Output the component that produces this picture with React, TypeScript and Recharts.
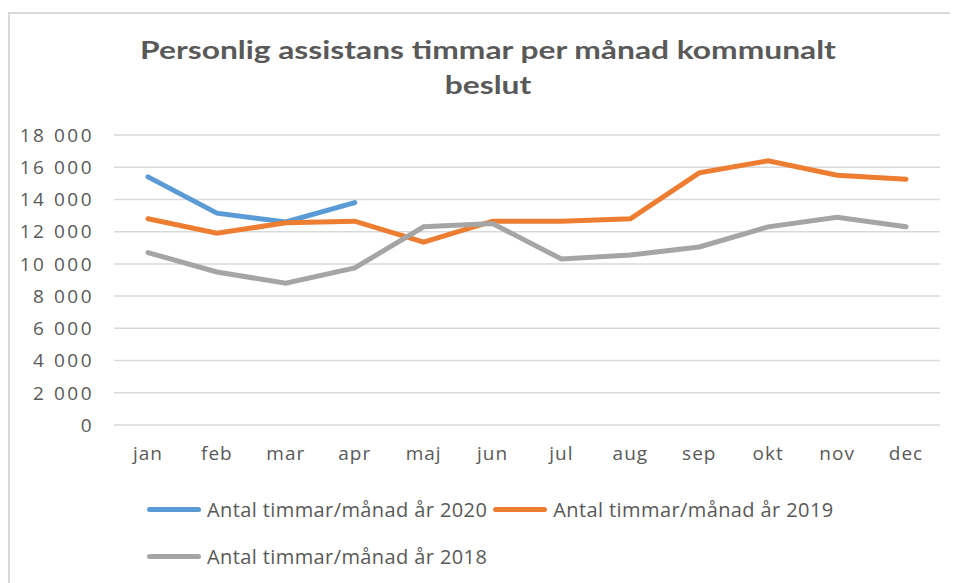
import React from "react"
import { LineChart, Line, XAxis, YAxis, CartesianGrid, Legend } from "recharts"

const months = ["jan", "feb", "mar", "apr", "maj", "jun", "jul", "aug", "sep", "okt", "nov", "dec"]
const hours2020 = [15400, 13150, 12600, 13800, null, null, null, null, null, null, null, null]
const hours2019 = [12800, 11900, 12550, 12650, 11350, 12650, 12650, 12800, 15650, 16400, 15500, 15250]
const hours2018 = [10700, 9500, 8800, 9750, 12300, 12500, 10300, 10550, 11050, 12300, 12900, 12300]
const yTicks = [0, 2000, 4000, 6000, 8000, 10000, 12000, 14000, 16000, 18000]

const seriesNames = ["Antal timmar/månad år 2020", "Antal timmar/månad år 2019", "Antal timmar/månad år 2018"]
const seriesColors = ["#5b9bd5", "#ed7d31", "#a5a5a5"]

const chartData = months.map((m, i) => ({
  month: m,
  y2020: hours2020[i],
  y2019: hours2019[i],
  y2018: hours2018[i],
}))

const textColor = "#595959"
const font = "'Open Sans', sans-serif"

// thousands with a space, swedish style
const fmt = (v: number) => (v >= 1000 ? `${Math.floor(v / 1000)} ${String(v % 1000).padStart(3, "0")}` : String(v))

const LegendBox = ({ payload }: any) => {
  const item = (entry: any) => (
    <div key={entry.value} style={{ display: "flex", alignItems: "center", marginRight: 6 }}>
      <div style={{ width: 54, height: 5, borderRadius: 3, background: entry.color, marginRight: 6 }} />
      <span style={{ fontSize: 20, letterSpacing: 0.4, color: textColor, fontFamily: font }}>{entry.value}</span>
    </div>
  )
  // keep the 2020, 2019, 2018 order
  const list = [...(payload || [])].sort((a, b) => seriesNames.indexOf(a.value) - seriesNames.indexOf(b.value))
  return (
    <div style={{ paddingLeft: 139 }}>
      <div style={{ display: "flex", height: 47, alignItems: "center" }}>{list.slice(0, 2).map(item)}</div>
      <div style={{ display: "flex", height: 47, alignItems: "center" }}>{list.slice(2).map(item)}</div>
    </div>
  )
}

export default function App() {
  return (
    <div style={{ position: "relative", width: 950, height: 575, background: "#fff", overflow: "hidden" }}>
      <style>{"html, body { overflow: hidden; }"}</style>
      {/* chart frame: only the top and left edges show */}
      <div style={{ position: "absolute", left: 0, top: 4, width: 950, height: 2, background: "#d9d9d9" }} />
      <div style={{ position: "absolute", left: 0, top: 4, width: 2, height: 571, background: "#d9d9d9" }} />
      <div
        style={{
          position: "absolute",
          left: 0,
          width: 960,
          top: 24,
          textAlign: "center",
          fontFamily: "Lato, sans-serif",
          fontWeight: 700,
          fontSize: 25,
          lineHeight: "35px",
          color: textColor,
          transform: "scaleX(1.27)",
          transformOrigin: "480px 0",
        }}
      >
        Personlig assistans timmar per månad kommunalt
        <br />
        beslut
      </div>
      <LineChart
        width={950}
        height={575}
        data={chartData}
        margin={{ top: 127, right: 18, left: 26, bottom: 34 }}
        style={{ position: "absolute", left: 0, top: 0 }}
      >
        <CartesianGrid vertical={false} stroke="#d9d9d9" strokeWidth={1.5} />
        <XAxis
          dataKey="month"
          axisLine={false}
          tickLine={false}
          tickSize={0}
          tickMargin={22}
          height={30}
          interval={0}
          padding={{ left: 34, right: 34 }}
          tick={{ fill: textColor, fontSize: 19, fontFamily: font, letterSpacing: 1 }}
        />
        <YAxis
          domain={[0, 18000]}
          ticks={yTicks}
          interval={0}
          axisLine={false}
          tickLine={false}
          tickSize={0}
          tickMargin={20}
          width={80}
          tickFormatter={fmt}
          tick={{ fill: textColor, fontSize: 19, fontFamily: font, letterSpacing: 2.5 }}
        />
        <Legend
          content={<LegendBox />}
          wrapperStyle={{ position: "absolute", left: 0, top: 478, width: 950 }}
        />
        <Line
          dataKey="y2020"
          name={seriesNames[0]}
          stroke={seriesColors[0]}
          strokeWidth={5}
          dot={false}
          strokeLinecap="round"
          isAnimationActive={false}
        />
        <Line
          dataKey="y2019"
          name={seriesNames[1]}
          stroke={seriesColors[1]}
          strokeWidth={5}
          dot={false}
          strokeLinecap="round"
          isAnimationActive={false}
        />
        <Line
          dataKey="y2018"
          name={seriesNames[2]}
          stroke={seriesColors[2]}
          strokeWidth={5}
          dot={false}
          strokeLinecap="round"
          isAnimationActive={false}
        />
      </LineChart>
    </div>
  )
}
